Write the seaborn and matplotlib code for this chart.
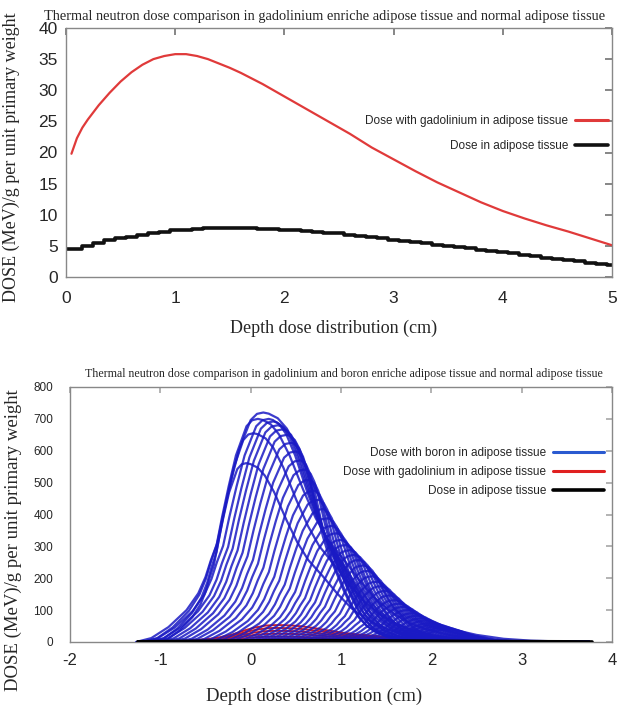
import numpy as np
import pandas as pd
import matplotlib
matplotlib.use("Agg")
import matplotlib.pyplot as plt
from matplotlib.lines import Line2D
import seaborn as sns

# ---------------- data: top panel ----------------
gd_top_x = [0.05, 0.1, 0.15, 0.2, 0.3, 0.4, 0.5, 0.6, 0.7, 0.8, 0.9, 1.0, 1.1, 1.2, 1.3, 1.4,
            1.5, 1.6, 1.7, 1.8, 1.9, 2.0, 2.2, 2.4, 2.6, 2.8, 3.0, 3.2, 3.4, 3.6, 3.8, 4.0,
            4.2, 4.4, 4.6, 4.8, 5.0]
gd_top_y = [19.8, 22.3, 24.0, 25.3, 27.6, 29.6, 31.4, 32.9, 34.1, 35.0, 35.5, 35.8, 35.8, 35.5,
            35.0, 34.3, 33.6, 32.8, 31.9, 31.0, 30.0, 29.0, 27.0, 25.0, 23.0, 20.8, 18.9, 17.0,
            15.2, 13.6, 12.0, 10.6, 9.4, 8.3, 7.3, 6.2, 5.1]
adi_top_x = [0.0, 0.1, 0.2, 0.3, 0.4, 0.5, 0.6, 0.7, 0.8, 0.9, 1.0, 1.1, 1.2, 1.3, 1.4, 1.5,
             1.6, 1.7, 1.8, 1.9, 2.0, 2.1, 2.2, 2.3, 2.4, 2.5, 2.6, 2.7, 2.8, 2.9, 3.0, 3.1,
             3.2, 3.3, 3.4, 3.5, 3.6, 3.7, 3.8, 3.9, 4.0, 4.1, 4.2, 4.3, 4.4, 4.5, 4.6, 4.7,
             4.8, 4.9, 5.0]
adi_top_y = [4.5, 4.5, 5.0, 5.5, 6.0, 6.3, 6.5, 6.8, 7.0, 7.3, 7.5, 7.6, 7.7, 7.8, 7.9, 7.9,
             7.9, 7.8, 7.7, 7.7, 7.6, 7.5, 7.4, 7.2, 7.1, 7.0, 6.8, 6.6, 6.4, 6.2, 6.0, 5.8,
             5.6, 5.4, 5.2, 5.0, 4.8, 4.6, 4.4, 4.2, 4.0, 3.8, 3.5, 3.3, 3.1, 2.9, 2.7, 2.5,
             2.3, 2.1, 2.0]

# ---------------- data: bottom panel ----------------
# dose profile (offset from its peak, fraction of peak)
profile_dx = [-1.41, -1.24, -1.05, -0.85, -0.72, -0.64, -0.58, -0.51, -0.44, -0.36, -0.27, -0.14,
              -0.07, 0.0, 0.06, 0.16, 0.26, 0.39, 0.56, 0.71, 0.86, 1.06, 1.26, 1.46, 1.66, 1.86,
              2.06, 2.36, 2.66, 2.96, 3.36, 3.64]
profile_g = [0.0, 0.017, 0.065, 0.139, 0.212, 0.283, 0.357, 0.431, 0.561, 0.697, 0.836, 0.967,
             0.994, 1.0, 0.995, 0.975, 0.93, 0.836, 0.68, 0.556, 0.458, 0.368, 0.271, 0.188,
             0.129, 0.086, 0.058, 0.031, 0.014, 0.006, 0.0015, 0.0]

# boron curves: peak depth, peak dose, rising-side width, falling-side width
boron_peak_x = [-0.05, 0.03, 0.08, 0.14, 0.20, 0.25, 0.30, 0.35, 0.40, 0.45, 0.50, 0.55, 0.60,
                0.65, 0.70, 0.75, 0.80, 0.85, 0.90, 0.95, 1.00, 1.05, 1.10, 1.15, 1.20, 1.25,
                1.30, 1.35, 1.40, 1.45, 1.50, 1.55, 1.60, 1.65, 1.70, 1.75, 1.80, 1.85, 1.90,
                1.95, 2.00, 2.05, 2.10, 2.15, 2.20]
boron_peak_h = [561, 655, 700, 720, 700, 692, 680, 667, 650, 625, 598, 570, 541, 509, 475, 446,
                417, 388, 364, 341, 320, 304, 288, 273, 257, 240, 223, 206, 189, 175, 160, 146,
                131, 120, 110, 100, 90, 82, 74, 67, 60, 55, 50, 45, 40]
boron_left_w = [0.70, 0.80, 0.90, 1.00, 0.99, 0.98, 0.98, 0.97, 0.96, 0.95, 0.93, 0.92, 0.90,
                0.88, 0.86, 0.85, 0.83, 0.82, 0.80, 0.79, 0.78, 0.77, 0.76, 0.75, 0.74, 0.73,
                0.72, 0.71, 0.70, 0.70, 0.69, 0.68, 0.67, 0.67, 0.66, 0.66, 0.65, 0.65, 0.64,
                0.64, 0.63, 0.63, 0.63, 0.62, 0.62]
boron_right_w = [0.80, 0.85, 0.90, 1.00, 0.75, 0.70, 0.65, 0.60, 0.55, 0.50, 0.42, 0.40, 0.40,
                 0.38, 0.38, 0.38, 0.38, 0.40, 0.40, 0.40, 0.40, 0.38, 0.38, 0.38, 0.38, 0.38,
                 0.35, 0.35, 0.35, 0.35, 0.35, 0.35, 0.35, 0.35, 0.35, 0.35, 0.35, 0.35, 0.35,
                 0.35, 0.35, 0.35, 0.35, 0.35, 0.35]

gd_peak_x = [0.30, 0.30, 0.30, 0.30, 0.30, 0.30]
gd_peak_h = [9, 17, 26, 35, 44, 53]

adi_bot_x = [-1.25, -0.8, -0.4, 0.0, 0.4, 0.8, 1.2, 1.6, 2.0, 2.5, 3.0, 3.5, 3.78]
adi_bot_y = [1.0, 2.0, 3.0, 4.0, 4.5, 4.5, 4.0, 3.5, 3.0, 2.0, 1.5, 1.0, 0.5]

title_top = "Thermal neutron dose comparison in gadolinium enriche adipose tissue and normal adipose tissue"
title_bot = ("Thermal neutron dose comparison in gadolinium and boron enriche adipose tissue "
             "and normal adipose tissue")
ylab = "DOSE (MeV)/g per unit primary weight"
xlab = "Depth dose distribution (cm)"

X_START, X_END = -1.25, 3.75


def build_family(px, ph, wl, wr):
    """Each curve: the read profile placed at its peak, on the common depth grid."""
    dx = np.array(profile_dx)
    g = np.array(profile_g)
    rows = []
    for k, (p, h, sl, sr) in enumerate(zip(px, ph, wl, wr)):
        x = np.where(dx < 0, p + dx * sl, p + dx * sr)
        y = h * g
        keep = (x >= X_START - 0.02) & (x <= X_END + 0.03)
        x, y = list(x[keep]), list(y[keep])
        if x[0] > X_START:
            x, y = [X_START] + x, [0.0] + y
        if x[-1] < X_END:
            x, y = x + [X_END], y + [0.0]
        for xi, yi in zip(x, y):
            rows.append((k, xi, yi))
    return pd.DataFrame(rows, columns=["curve", "x", "y"])


sns.set_theme(style="white")
serif = ["Liberation Serif", "DejaVu Serif"]
sans = ["Liberation Sans", "DejaVu Sans"]
plt.rcParams["font.family"] = sans
plt.rcParams["axes.unicode_minus"] = False

fig = plt.figure(figsize=(6.18, 7.15), dpi=100)
ax1 = fig.add_axes([66 / 618, 1 - 277 / 715, 546 / 618, 249 / 715])
ax2 = fig.add_axes([70 / 618, 1 - 642 / 715, 542 / 618, 255 / 715])

# ---------- top panel ----------
red = "#e03a3a"
sns.lineplot(x=gd_top_x, y=gd_top_y, ax=ax1, color=red, lw=1.6)
sns.lineplot(x=adi_top_x, y=adi_top_y, ax=ax1, color="#111111", lw=2.6,
             drawstyle="steps-mid")
ax1.set_xlim(0, 5)
ax1.set_ylim(0, 40)
ax1.set_xticks(range(0, 6))
ax1.set_yticks(range(0, 41, 5))
ax1.tick_params(axis="y", direction="in", length=5, color="#777777", right=True,
                labelsize=12.5, pad=6)
ax1.tick_params(axis="x", direction="in", length=5, color="#777777", top=True,
                labelsize=12.5, pad=10)
ax1.set_title(title_top, family=serif, fontsize=10.4, pad=6, x=0.474)
ax1.set_xlabel(xlab, family=serif, fontsize=13)
ax1.set_ylabel(ylab, family=serif, fontsize=13)
ax1.xaxis.set_label_coords(0.49, -0.17)
ax1.yaxis.set_label_coords(-0.085, 0.48)
h_top = [Line2D([], [], color=red, lw=2.2), Line2D([], [], color="#111111", lw=2.6)]
ax1.legend(h_top, ["Dose with gadolinium in adipose tissue", "Dose in adipose tissue"],
           loc="upper right", bbox_to_anchor=(0.993, 0.652), frameon=False, markerfirst=False,
           handlelength=2.8, handletextpad=0.6, labelspacing=1.1, borderpad=0,
           borderaxespad=0, prop={"family": sans, "size": 8.5})

# ---------- bottom panel ----------
df_b = build_family(boron_peak_x, boron_peak_h, boron_left_w, boron_right_w)
df_g = build_family(gd_peak_x, gd_peak_h, [1.0] * len(gd_peak_x), [1.0] * len(gd_peak_x))
sns.lineplot(data=df_g, x="x", y="y", units="curve", estimator=None, sort=False, ax=ax2,
             color="#d02020", lw=1.4, zorder=2)
sns.lineplot(data=df_b, x="x", y="y", units="curve", estimator=None, sort=False, ax=ax2,
             color="#1a1ac4", lw=1.6, alpha=0.85, zorder=3)
sns.lineplot(x=adi_bot_x, y=adi_bot_y, ax=ax2, color="black", lw=2.4, zorder=4)
ax2.set_xlim(-2, 4)
ax2.set_ylim(0, 800)
ax2.set_xticks(range(-2, 5))
ax2.set_yticks(range(0, 801, 100))
ax2.tick_params(axis="y", direction="in", length=4, color="#aaaaaa", right=True, labelsize=8.5,
                pad=12)
ax2.tick_params(axis="x", direction="in", length=4, color="#aaaaaa", top=True, bottom=False,
                labelsize=12, pad=8)
ax2.set_title(title_bot, family=serif, fontsize=8.6, pad=7, x=0.505)
ax2.set_xlabel(xlab, family=serif, fontsize=13.5)
ax2.set_ylabel(ylab, family=serif, fontsize=13.5)
ax2.xaxis.set_label_coords(0.45, -0.18)
ax2.yaxis.set_label_coords(-0.088, 0.40)
h_bot = [Line2D([], [], color="#2a5ad0", lw=2.2), Line2D([], [], color="#e02020", lw=2.2),
         Line2D([], [], color="black", lw=2.6)]
ax2.legend(h_bot, ["Dose with boron in adipose tissue", "Dose with gadolinium in adipose tissue",
                   "Dose in adipose tissue"],
           loc="upper right", bbox_to_anchor=(0.985, 0.765), frameon=False, markerfirst=False,
           handlelength=4.3, handletextpad=0.6, labelspacing=0.6, borderpad=0,
           borderaxespad=0, prop={"family": sans, "size": 8.5})

for ax in (ax1, ax2):
    for s in ax.spines.values():
        s.set_color("#888888")
        s.set_linewidth(1.0)

fig.savefig("out.png", dpi=100)
